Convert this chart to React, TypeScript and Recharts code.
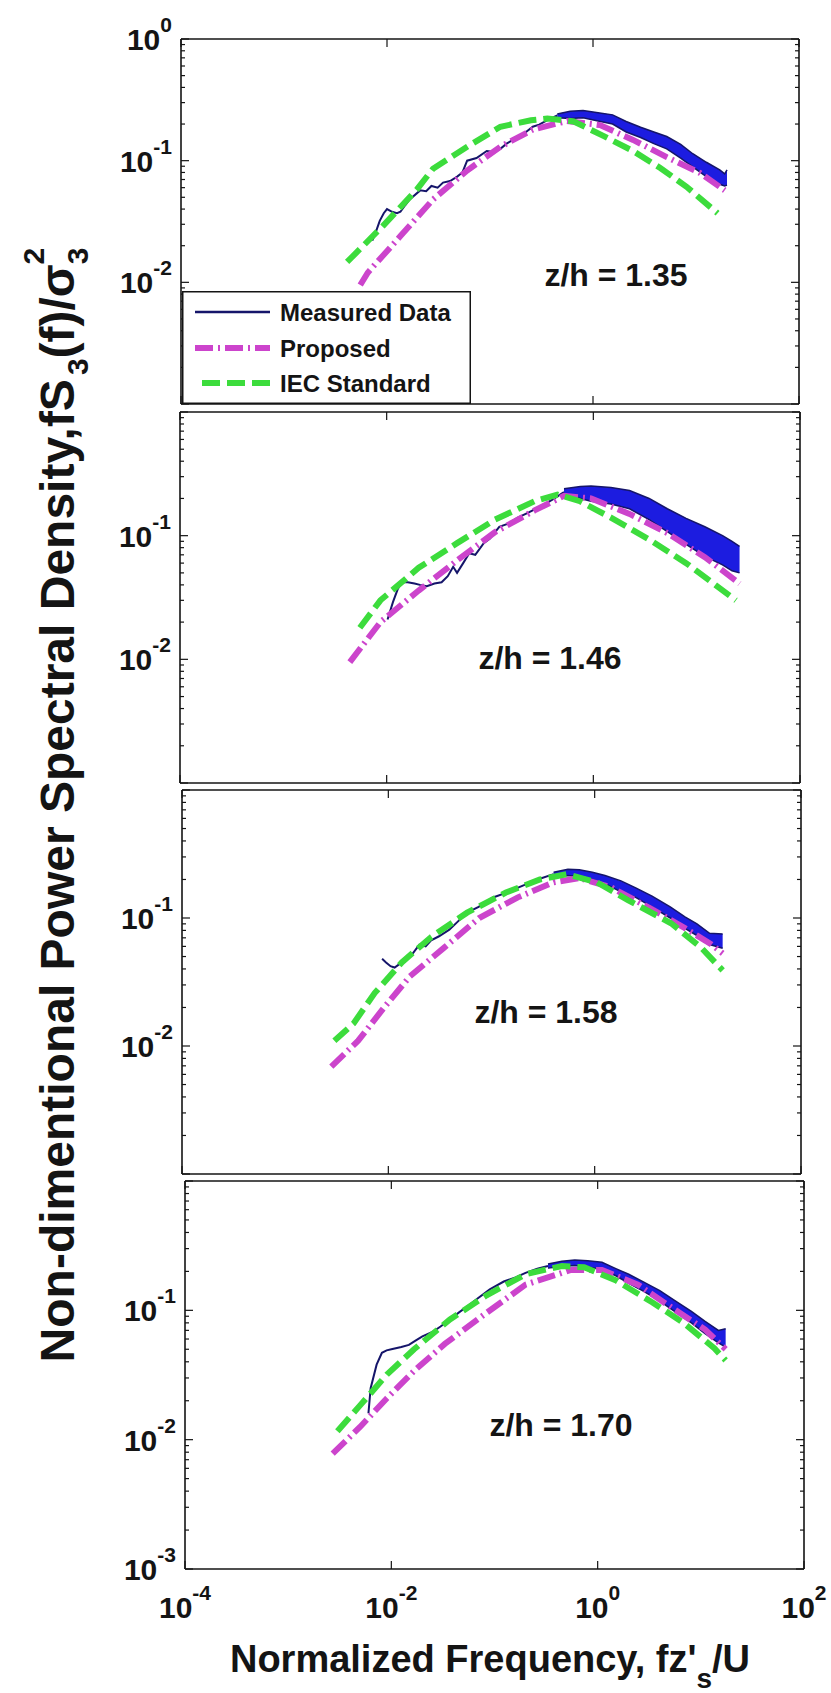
import React from "react";
import { ComposedChart, Line, Area, XAxis, YAxis, Legend } from "recharts";

const FONT = "'Liberation Sans', Arial, Helvetica, sans-serif";
const INK = "#141414";
const NAVY = "#15156a";
const BLUE = "#1c1ce0";
const MAGENTA = "#cc44cc";
const GREEN = "#3cdc3c";

const PAGE_W = 831;
const PAGE_H = 1693;

// log-log axes
const xDomain = [0.0001, 100];
const yDomain = [0.001, 1];
const xTicks = [0.0001, 0.01, 1, 100];
const yTicks = [
  0.001, 0.002, 0.003, 0.004, 0.005, 0.006, 0.007, 0.008, 0.009,
  0.01, 0.02, 0.03, 0.04, 0.05, 0.06, 0.07, 0.08, 0.09,
  0.1, 0.2, 0.3, 0.4, 0.5, 0.6, 0.7, 0.8, 0.9, 1,
];

const seriesNames = ["Measured Data", "Proposed", "IEC Standard"];
const panelNotes = ["z/h = 1.35", "z/h = 1.46", "z/h = 1.58", "z/h = 1.70"];

// ---- z/h = 1.35
const meas1F = [0.0072, 0.0078, 0.0085, 0.0093, 0.01, 0.0112, 0.0125, 0.0135, 0.015, 0.0166, 0.021, 0.024, 0.027, 0.031, 0.035, 0.041, 0.048, 0.054, 0.06, 0.074, 0.093, 0.11, 0.126, 0.145, 0.166, 0.21, 0.26, 0.3, 0.35, 0.45];
const meas1S = [0.022, 0.026, 0.032, 0.037, 0.04, 0.038, 0.037, 0.038, 0.043, 0.048, 0.057, 0.056, 0.062, 0.06, 0.066, 0.068, 0.074, 0.08, 0.1, 0.105, 0.12, 0.118, 0.125, 0.138, 0.148, 0.165, 0.19, 0.198, 0.212, 0.235];
const band1F = [0.45, 0.6, 0.8, 1.12, 1.55, 2.1, 2.9, 3.9, 5.2, 7.1, 9.3, 12.6, 17, 19, 20];
const band1Lo = [0.225, 0.222, 0.225, 0.212, 0.2, 0.172, 0.155, 0.138, 0.125, 0.105, 0.089, 0.074, 0.064, 0.062, 0.063];
const band1Hi = [0.242, 0.255, 0.258, 0.248, 0.238, 0.21, 0.188, 0.172, 0.158, 0.136, 0.114, 0.097, 0.084, 0.078, 0.084];
const prop1F = [0.0055, 0.0065, 0.0135, 0.0195, 0.028, 0.06, 0.126, 0.26, 0.56, 1.17, 2.45, 5.2, 11, 19];
const prop1S = [0.0095, 0.012, 0.024, 0.034, 0.048, 0.083, 0.13, 0.18, 0.212, 0.196, 0.148, 0.107, 0.079, 0.057];
const iec1F = [0.0041, 0.0091, 0.0195, 0.028, 0.06, 0.126, 0.25, 0.36, 0.65, 1.26, 2.45, 4.5, 8.1, 16.2];
const iec1S = [0.0147, 0.029, 0.058, 0.086, 0.13, 0.19, 0.215, 0.222, 0.21, 0.16, 0.12, 0.087, 0.061, 0.037];

// ---- z/h = 1.46
const meas2F = [0.0102, 0.0115, 0.0128, 0.0141, 0.016, 0.0186, 0.021, 0.0245, 0.029, 0.034, 0.039, 0.044, 0.048, 0.055, 0.063, 0.072, 0.087, 0.1, 0.123, 0.15, 0.186, 0.24, 0.34, 0.42, 0.52];
const meas2S = [0.021, 0.029, 0.037, 0.042, 0.042, 0.041, 0.04, 0.039, 0.041, 0.042, 0.047, 0.056, 0.05, 0.06, 0.072, 0.07, 0.087, 0.095, 0.118, 0.125, 0.14, 0.155, 0.18, 0.2, 0.225];
const band2F = [0.52, 0.75, 0.95, 1.48, 2.24, 3.47, 5.2, 7.9, 12, 17.8, 22, 26];
const band2Lo = [0.215, 0.2, 0.19, 0.18, 0.165, 0.135, 0.108, 0.085, 0.068, 0.058, 0.052, 0.05];
const band2Hi = [0.24, 0.25, 0.252, 0.245, 0.232, 0.2, 0.165, 0.138, 0.118, 0.1, 0.09, 0.082];
const prop2F = [0.0044, 0.0087, 0.0204, 0.048, 0.112, 0.27, 0.52, 0.95, 2.24, 5.2, 12, 26];
const prop2S = [0.0095, 0.02, 0.036, 0.063, 0.107, 0.16, 0.21, 0.2, 0.15, 0.105, 0.067, 0.041];
const iec2F = [0.0055, 0.0087, 0.0204, 0.048, 0.112, 0.27, 0.45, 0.74, 1.48, 3.47, 7.9, 24];
const iec2S = [0.018, 0.03, 0.055, 0.087, 0.135, 0.19, 0.215, 0.19, 0.14, 0.093, 0.06, 0.03];

// ---- z/h = 1.58
const meas3F = [0.0087, 0.0095, 0.0105, 0.0115, 0.013, 0.0148, 0.017, 0.02, 0.023, 0.026, 0.031, 0.039, 0.046, 0.058, 0.075, 0.102, 0.14, 0.204, 0.28, 0.4];
const meas3S = [0.048, 0.045, 0.042, 0.041, 0.044, 0.047, 0.052, 0.062, 0.06, 0.067, 0.072, 0.081, 0.092, 0.11, 0.122, 0.144, 0.158, 0.18, 0.2, 0.22];
const band3F = [0.4, 0.55, 0.71, 0.95, 1.26, 1.8, 2.5, 3.6, 5.4, 7.5, 9.8, 13, 17.4];
const band3Lo = [0.212, 0.215, 0.21, 0.2, 0.185, 0.16, 0.145, 0.122, 0.1, 0.083, 0.073, 0.062, 0.058];
const band3Hi = [0.228, 0.24, 0.238, 0.228, 0.215, 0.195, 0.172, 0.148, 0.122, 0.102, 0.09, 0.076, 0.075];
const prop3F = [0.0028, 0.0051, 0.0091, 0.0162, 0.035, 0.076, 0.18, 0.4, 0.71, 1.41, 3.4, 7.2, 13.2, 17.4];
const prop3S = [0.0069, 0.011, 0.02, 0.035, 0.059, 0.1, 0.145, 0.19, 0.205, 0.175, 0.12, 0.085, 0.063, 0.053];
const iec3F = [0.003, 0.0046, 0.0074, 0.0135, 0.026, 0.058, 0.138, 0.295, 0.54, 1.05, 2.1, 5.5, 10.7, 17.4];
const iec3S = [0.011, 0.015, 0.026, 0.045, 0.071, 0.11, 0.158, 0.2, 0.22, 0.19, 0.138, 0.091, 0.059, 0.039];

// ---- z/h = 1.70
const meas4F = [0.006, 0.0063, 0.0072, 0.0081, 0.009, 0.01, 0.0125, 0.0148, 0.017, 0.02, 0.025, 0.03, 0.037, 0.045, 0.055, 0.068, 0.09, 0.123, 0.16, 0.2, 0.26, 0.33];
const meas4S = [0.016, 0.025, 0.038, 0.047, 0.049, 0.05, 0.052, 0.054, 0.058, 0.063, 0.068, 0.075, 0.085, 0.096, 0.108, 0.123, 0.145, 0.167, 0.18, 0.195, 0.21, 0.22];
const band4F = [0.33, 0.45, 0.6, 0.8, 1.1, 1.5, 2, 2.8, 4, 5.7, 8.1, 11, 14.8, 17.4];
const band4Lo = [0.212, 0.218, 0.222, 0.215, 0.208, 0.185, 0.162, 0.14, 0.118, 0.097, 0.08, 0.066, 0.056, 0.052];
const band4Hi = [0.228, 0.24, 0.245, 0.242, 0.235, 0.21, 0.19, 0.165, 0.142, 0.118, 0.098, 0.082, 0.07, 0.072];
const prop4F = [0.0027, 0.005, 0.0091, 0.0166, 0.033, 0.074, 0.2, 0.55, 1.1, 2.45, 5.5, 11, 17.4];
const prop4S = [0.0078, 0.0126, 0.021, 0.034, 0.055, 0.089, 0.158, 0.205, 0.205, 0.158, 0.102, 0.071, 0.05];
const iec4F = [0.003, 0.005, 0.0091, 0.0166, 0.037, 0.083, 0.2, 0.45, 0.74, 1.51, 3.4, 6.8, 13.5, 17.4];
const iec4S = [0.0116, 0.0185, 0.032, 0.05, 0.085, 0.13, 0.19, 0.22, 0.215, 0.17, 0.115, 0.08, 0.051, 0.041];

const toPoints = (f: number[], s: number[]) => f.map((v, i) => ({ f: v, s: s[i] }));
const toBand = (f: number[], lo: number[], hi: number[]) =>
  f.map((v, i) => ({ f: v, range: [lo[i], hi[i]] }));

// layout of the four stacked boxes (page pixels)
const panels = [
  {
    note: panelNotes[0], noteX: 616, noteY: 275,
    box: { left: 181, right: 799, top: 39, bottom: 404 },
    yLabels: [1, 0.1, 0.01], xLabels: false, legend: true,
    meas: toPoints(meas1F, meas1S), band: toBand(band1F, band1Lo, band1Hi),
    prop: toPoints(prop1F, prop1S), iec: toPoints(iec1F, iec1S),
  },
  {
    note: panelNotes[1], noteX: 550, noteY: 658,
    box: { left: 180, right: 800, top: 412, bottom: 783 },
    yLabels: [0.1, 0.01], xLabels: false, legend: false,
    meas: toPoints(meas2F, meas2S), band: toBand(band2F, band2Lo, band2Hi),
    prop: toPoints(prop2F, prop2S), iec: toPoints(iec2F, iec2S),
  },
  {
    note: panelNotes[2], noteX: 546, noteY: 1012,
    box: { left: 182, right: 801, top: 790, bottom: 1174 },
    yLabels: [0.1, 0.01], xLabels: false, legend: false,
    meas: toPoints(meas3F, meas3S), band: toBand(band3F, band3Lo, band3Hi),
    prop: toPoints(prop3F, prop3S), iec: toPoints(iec3F, iec3S),
  },
  {
    note: panelNotes[3], noteX: 561, noteY: 1425,
    box: { left: 185, right: 804, top: 1181, bottom: 1569 },
    yLabels: [0.1, 0.01, 0.001], xLabels: true, legend: false,
    meas: toPoints(meas4F, meas4S), band: toBand(band4F, band4Lo, band4Hi),
    prop: toPoints(prop4F, prop4S), iec: toPoints(iec4F, iec4S),
  },
];

const isMajor = (v: number) => {
  const l = Math.log10(v);
  return Math.abs(l - Math.round(l)) < 1e-6;
};
const expOf = (v: number) => String(Math.round(Math.log10(v)));
const hasLabel = (list: number[], v: number) => list.some((l) => Math.abs(l - v) < 1e-12);

function Power({ x, y, e, anchor }: { x: number; y: number; e: string; anchor: "start" | "middle" | "end" }) {
  return (
    <text x={x} y={y} textAnchor={anchor} fontFamily={FONT} fontWeight="bold" fill={INK}>
      <tspan fontSize={30}>10</tspan>
      <tspan fontSize={21} dy={-18}>{e}</tspan>
    </text>
  );
}

const leftTick = (labels: number[]) => (props: any) => {
  const { x, y, payload } = props;
  const v = payload.value;
  const len = isMajor(v) ? 8 : 4;
  return (
    <g>
      <line x1={x} x2={x + len} y1={y} y2={y} stroke={INK} strokeWidth={1.2} />
      {hasLabel(labels, v) && <Power x={x - 9} y={y + 11} e={expOf(v)} anchor="end" />}
    </g>
  );
};

const rightTick = (props: any) => {
  const { x, y, payload } = props;
  const len = isMajor(payload.value) ? 8 : 4;
  return <line x1={x} x2={x - len} y1={y} y2={y} stroke={INK} strokeWidth={1.2} />;
};

const topTick = (props: any) => {
  const { x, y } = props;
  return <line x1={x} x2={x} y1={y} y2={y + 8} stroke={INK} strokeWidth={1.2} />;
};

const bottomTick = (withLabels: boolean) => (props: any) => {
  const { x, y, payload } = props;
  return (
    <g>
      <line x1={x} x2={x} y1={y} y2={y - 8} stroke={INK} strokeWidth={1.2} />
      {withLabels && <Power x={x} y={y + 49} e={expOf(payload.value)} anchor="middle" />}
    </g>
  );
};

const legendStyles = [
  { color: NAVY, width: 2.5, dash: undefined as string | undefined, x1: 13 },
  { color: MAGENTA, width: 6, dash: "18 5 2 5", x1: 13 },
  { color: GREEN, width: 6, dash: "18 7", x1: 20 },
];

function LegendBox() {
  const rows = [21, 57, 92];
  return (
    <svg width={289} height={113} style={{ display: "block" }}>
      <rect x={0.75} y={0.75} width={287.5} height={111.5} fill="#fff" stroke={INK} strokeWidth={1.5} />
      {seriesNames.map((name, i) => (
        <g key={name}>
          <line
            x1={legendStyles[i].x1}
            x2={88}
            y1={rows[i]}
            y2={rows[i]}
            stroke={legendStyles[i].color}
            strokeWidth={legendStyles[i].width}
            strokeDasharray={legendStyles[i].dash}
          />
          <text x={98} y={rows[i] + 8.5} fontFamily={FONT} fontWeight="bold" fontSize={24} fill={INK}>
            {name}
          </text>
        </g>
      ))}
    </svg>
  );
}

const axisLine = { stroke: INK, strokeWidth: 1.6 };

function Panel({ p }: { p: (typeof panels)[number] }) {
  const { box } = p;
  const topPad = 30;
  const bottomPad = p.xLabels ? 70 : 12;
  const height = topPad + (box.bottom - box.top) + bottomPad;
  const chartTop = box.top - topPad;
  return (
    <div style={{ position: "absolute", left: 0, top: chartTop }}>
      <ComposedChart width={PAGE_W} height={height} margin={{ top: topPad - 5, right: 0, bottom: 0, left: 0 }}>
        <XAxis
          xAxisId="b" type="number" dataKey="f" scale="log" domain={xDomain} allowDataOverflow
          ticks={xTicks} interval={0} orientation="bottom" height={bottomPad}
          axisLine={axisLine} tickLine={false} tickSize={0} tickMargin={0} tick={bottomTick(p.xLabels)}
        />
        <XAxis
          xAxisId="t" type="number" dataKey="f" scale="log" domain={xDomain} allowDataOverflow
          ticks={xTicks} interval={0} orientation="top" height={5}
          axisLine={axisLine} tickLine={false} tickSize={0} tickMargin={0} tick={topTick}
        />
        <YAxis
          yAxisId="l" type="number" scale="log" domain={yDomain} allowDataOverflow
          ticks={yTicks} interval={0} orientation="left" width={box.left}
          axisLine={axisLine} tickLine={false} tickSize={0} tickMargin={0} tick={leftTick(p.yLabels)}
        />
        <YAxis
          yAxisId="r" type="number" scale="log" domain={yDomain} allowDataOverflow
          ticks={yTicks} interval={0} orientation="right" width={PAGE_W - box.right}
          axisLine={axisLine} tickLine={false} tickSize={0} tickMargin={0} tick={rightTick}
        />
        <Area
          xAxisId="b" yAxisId="l" data={p.band} dataKey="range" name={seriesNames[0]}
          type="linear" fill={BLUE} fillOpacity={1} stroke={NAVY} strokeWidth={1.5}
          dot={false} activeDot={false} isAnimationActive={false}
        />
        <Line
          xAxisId="b" yAxisId="l" data={p.meas} dataKey="s" name={seriesNames[0]}
          type="linear" stroke={NAVY} strokeWidth={2}
          dot={false} activeDot={false} isAnimationActive={false}
        />
        <Line
          xAxisId="b" yAxisId="l" data={p.prop} dataKey="s" name={seriesNames[1]}
          type="linear" stroke={MAGENTA} strokeWidth={6} strokeDasharray="18 5 2 5"
          dot={false} activeDot={false} isAnimationActive={false}
        />
        <Line
          xAxisId="b" yAxisId="l" data={p.iec} dataKey="s" name={seriesNames[2]}
          type="linear" stroke={GREEN} strokeWidth={6} strokeDasharray="18 7"
          dot={false} activeDot={false} isAnimationActive={false}
        />
        {p.legend && (
          <Legend
            layout="horizontal" verticalAlign="middle" align="center"
            wrapperStyle={{ left: 182, top: 291 - chartTop, width: 289, height: 113 }}
            content={() => <LegendBox />}
          />
        )}
      </ComposedChart>
    </div>
  );
}

export default function App() {
  return (
    <div style={{ position: "absolute", left: 0, top: 0, width: PAGE_W, height: PAGE_H, background: "#fff" }}>
      <svg width={PAGE_W} height={PAGE_H} style={{ position: "absolute", left: 0, top: 0 }}>
        <text
          transform="translate(74 805) rotate(-90)" textAnchor="middle"
          fontFamily={FONT} fontWeight="bold" fontSize={48} fill={INK}
        >
          Non-dimentional Power Spectral Density,fS
          <tspan fontSize={30} dx={4} dy={14}>3</tspan>
          <tspan dy={-14}>(f)/σ</tspan>
          <tspan fontSize={30} dy={14}>3</tspan>
          <tspan fontSize={30} dx={-17} dy={-44}>2</tspan>
        </text>
        {panels.map((p) => (
          <text
            key={p.note} x={p.noteX} y={p.noteY + 11} textAnchor="middle"
            fontFamily={FONT} fontWeight="bold" fontSize={32} fill={INK}
          >
            {p.note}
          </text>
        ))}
        <text x={490} y={1672} textAnchor="middle" fontFamily={FONT} fontWeight="bold" fontSize={38} fill={INK}>
          Normalized Frequency, fz'
          <tspan fontSize={28} dy={16}>s</tspan>
          <tspan dy={-16}>/U</tspan>
        </text>
      </svg>
      {panels.map((p) => (
        <Panel key={p.note} p={p} />
      ))}
    </div>
  );
}
